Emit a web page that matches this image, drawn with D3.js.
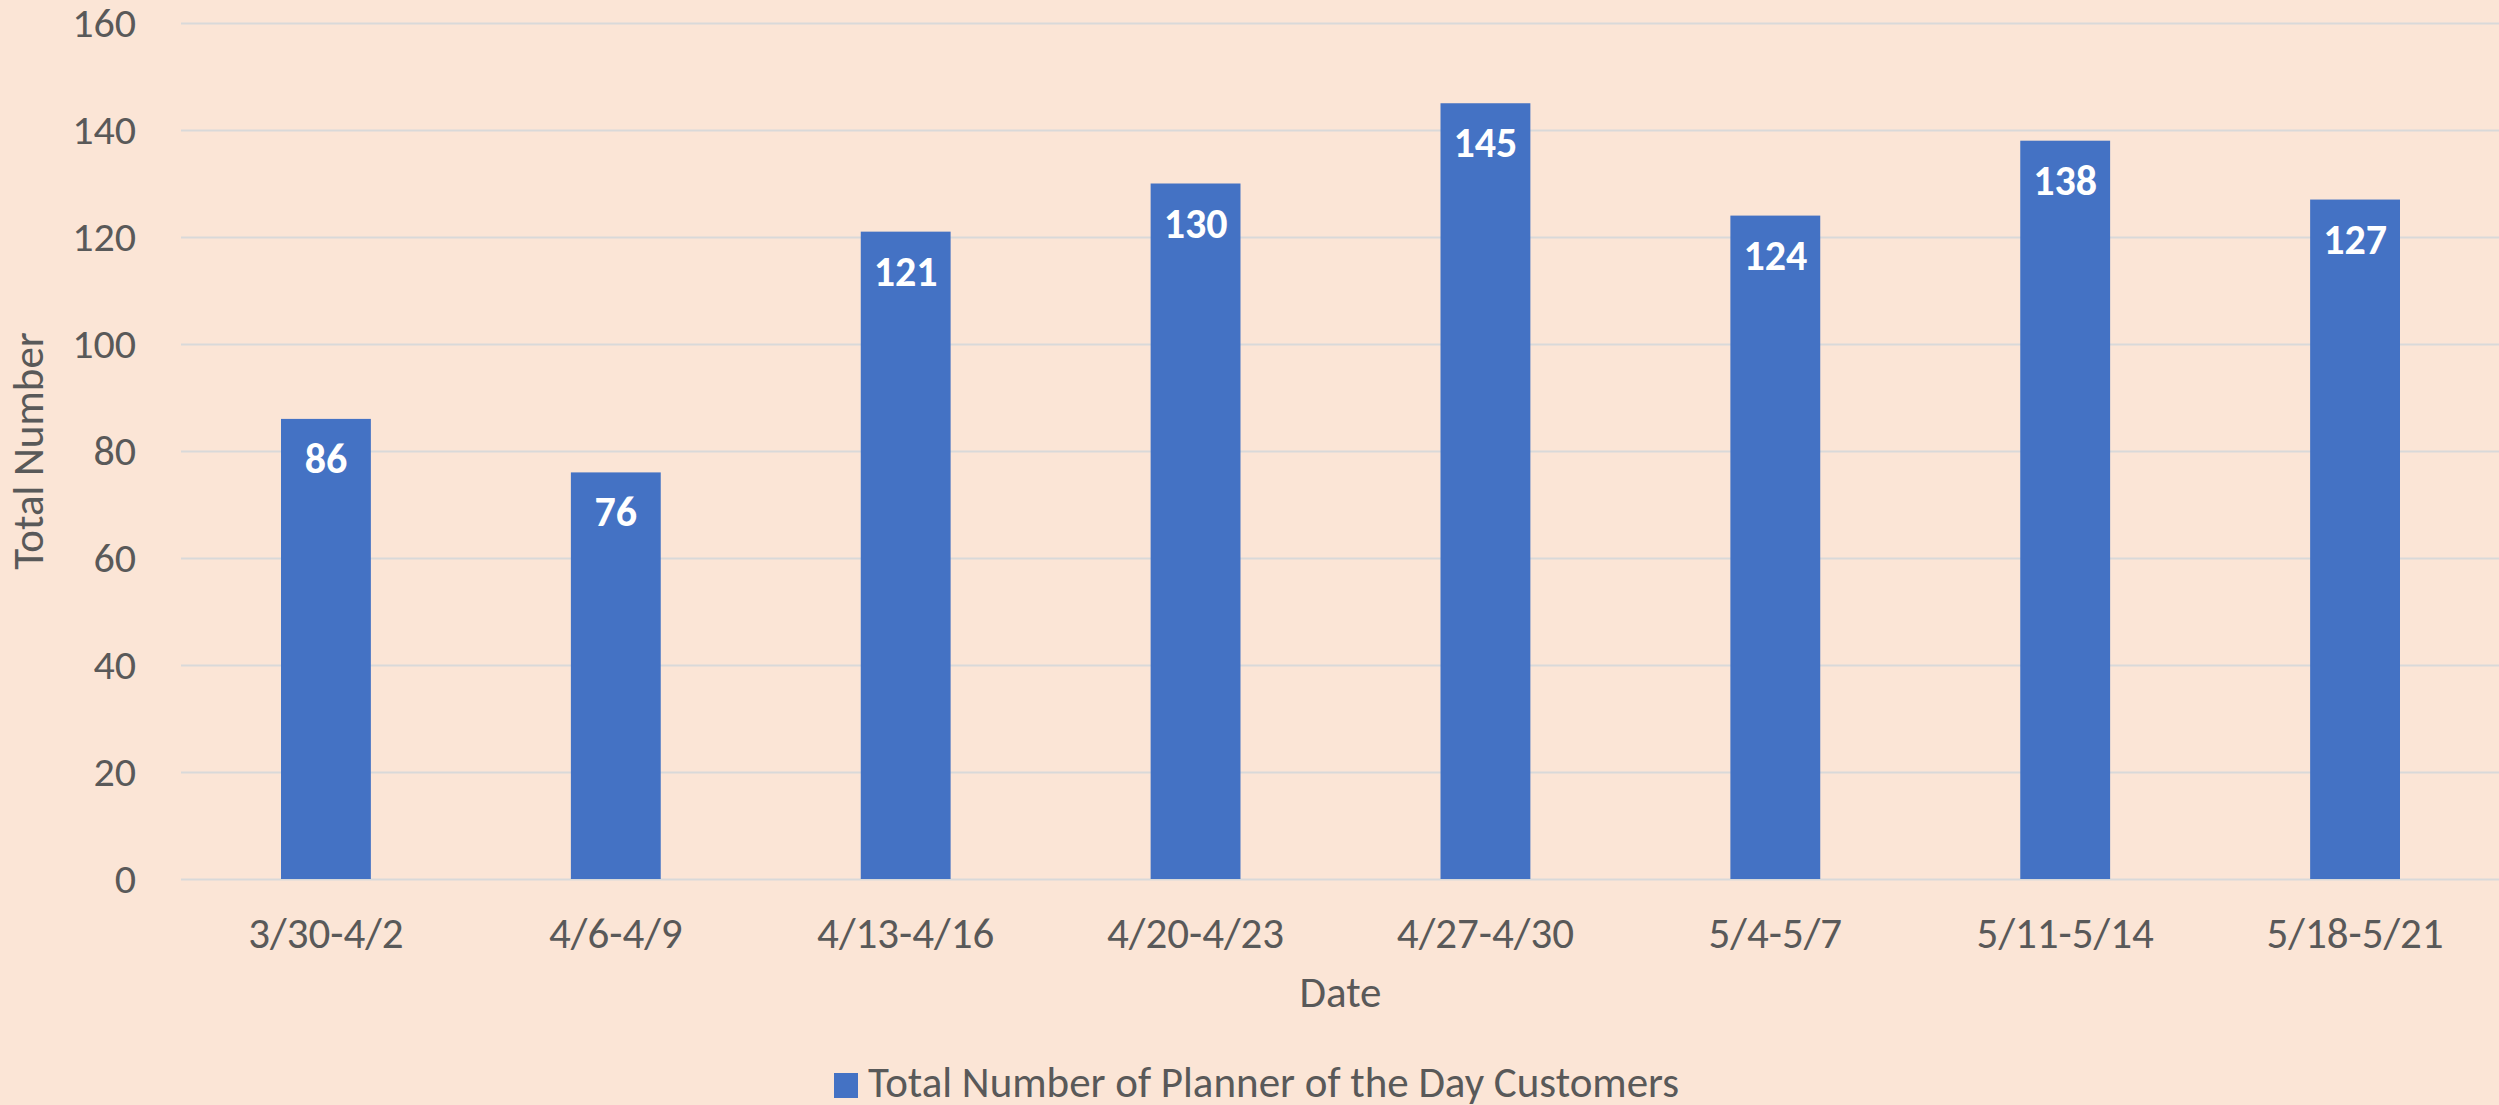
<!DOCTYPE html>
<html>
<head>
  <title>Total Number of Planner of the Day Customers</title>
  <script src="https://d3js.org/d3.v7.min.js"></script>
  <style>
    html, body { margin: 0; padding: 0; background: #FBE5D6; overflow: hidden; }
    svg { display: block; }
    text { font-family: Calibri, Carlito, Lato, sans-serif; fill: #595959; }
  </style>
</head>
<body>
<svg width="2499" height="1105"></svg>

<script>

// data
const dates = ['3/30-4/2', '4/6-4/9', '4/13-4/16', '4/20-4/23', '4/27-4/30', '5/4-5/7', '5/11-5/14', '5/18-5/21'];
const customers = [86, 76, 121, 130, 145, 124, 138, 127];
const yTicks = [0, 20, 40, 60, 80, 100, 120, 140, 160];

const data = dates.map((d, i) => ({ date: d, value: customers[i] }));

const svg = d3.select('svg');
const width = +svg.attr('width');
const height = +svg.attr('height');

svg.append('rect')
    .attr('width', width)
    .attr('height', height)
    .attr('fill', '#FBE5D6');

const margin = { top: 23, right: 0, bottom: 226, left: 181 };
const innerWidth = width + 1 - margin.left - margin.right;
const innerHeight = height - margin.top - margin.bottom;

// scales
const x = d3.scaleBand()
    .domain(dates)
    .range([0, innerWidth])
    .paddingInner(0.69)
    .paddingOuter(0.345);

const y = d3.scaleLinear()
    .domain([0, 160])
    .range([innerHeight, 0]);

const g = svg.append('g')
    .attr('transform', `translate(${margin.left},${margin.top})`);

// y axis with gridlines
const yAxis = d3.axisLeft(y)
    .tickValues(yTicks)
    .tickSize(-innerWidth)
    .tickPadding(45);

const yAxisG = g.append('g').attr('class', 'y-axis').call(yAxis);
yAxisG.select('.domain').remove();
yAxisG.selectAll('line')
    .attr('stroke', '#D9D9D9')
    .attr('stroke-width', 2);
yAxisG.selectAll('text')
    .attr('font-size', 42)
    .style('font-family', 'Calibri, Carlito, Lato, sans-serif')
    .attr('fill', '#595959');

// x axis
const xAxis = d3.axisBottom(x)
    .tickSize(0)
    .tickPadding(38);

const xAxisG = g.append('g')
    .attr('class', 'x-axis')
    .attr('transform', `translate(0,${innerHeight})`)
    .call(xAxis);
xAxisG.select('.domain').remove();
xAxisG.selectAll('text')
    .attr('font-size', 43)
    .style('font-family', 'Calibri, Carlito, Lato, sans-serif')
    .attr('fill', '#595959');

// bars
g.selectAll('.bar')
  .data(data)
  .enter().append('rect')
    .attr('class', 'bar')
    .attr('x', d => x(d.date))
    .attr('y', d => y(d.value))
    .attr('width', x.bandwidth())
    .attr('height', d => innerHeight - y(d.value))
    .attr('fill', '#4472C4');

// value labels
g.selectAll('.label')
  .data(data)
  .enter().append('text')
    .attr('class', 'label')
    .attr('x', d => x(d.date) + x.bandwidth() / 2)
    .attr('y', d => y(d.value) + 54)
    .attr('text-anchor', 'middle')
    .attr('font-size', 42)
    .attr('font-weight', 'bold')
    .style('fill', '#FFFFFF')
    .text(d => d.value);

// axis titles
svg.append('text')
    .attr('transform', `translate(43,${margin.top + innerHeight / 2}) rotate(-90)`)
    .attr('text-anchor', 'middle')
    .attr('font-size', 43)
    .text('Total Number');

svg.append('text')
    .attr('x', margin.left + innerWidth / 2)
    .attr('y', 1007)
    .attr('text-anchor', 'middle')
    .attr('font-size', 43)
    .text('Date');

// legend
const legend = svg.append('g')
    .attr('transform', 'translate(834,1073)');
legend.append('rect')
    .attr('width', 24)
    .attr('height', 25)
    .attr('fill', '#4472C4');
legend.append('text')
    .attr('x', 34)
    .attr('y', 24)
    .attr('font-size', 43)
    .text('Total Number of Planner of the Day Customers');

</script>
</body>
</html>
